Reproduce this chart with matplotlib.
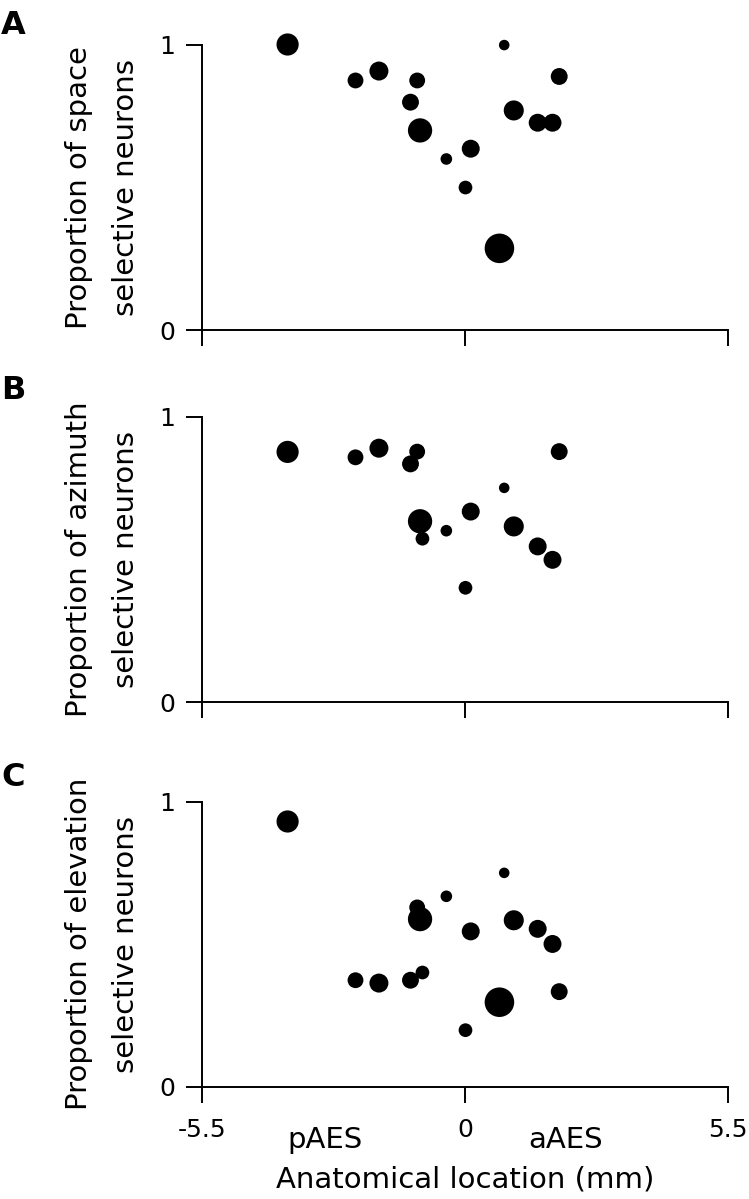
import numpy as np
import matplotlib.pyplot as plt

plt.rcParams["font.family"] = "DejaVu Sans"

W, H = 749, 1199

# recording sites: anatomical location (mm) and marker diameter (px, ~ neuron count)
location = [-3.71, -2.29, -1.80, -1.14, -1.00, -0.94, -0.89, -0.39,
            0.01, 0.12, 0.72, 0.82, 1.02, 1.52, 1.83, 1.97]
site_size = [21, 15, 18, 16, 15, 23, 13, 11, 13, 17, 28, 10, 19, 17, 17, 16]

space = [1.00, 0.874, 0.907, 0.798, 0.874, 0.699, 0.70, 0.599,
         0.499, 0.635, 0.286, 0.998, 0.769, 0.726, 0.726, 0.888]
azimuth = [0.876, 0.857, 0.889, 0.834, 0.877, 0.633, 0.572, 0.600,
           0.400, 0.667, np.nan, 0.750, 0.615, 0.545, 0.498, 0.877]
elevation = [0.930, 0.374, 0.364, 0.374, 0.629, 0.588, 0.401, 0.668,
             0.199, 0.545, 0.297, 0.750, 0.584, 0.554, 0.501, 0.334]

panels = [
    ("A", space, "Proportion of space", 330),
    ("B", azimuth, "Proportion of azimuth", 702),
    ("C", elevation, "Proportion of elevation", 1087),
]
letter_top = {"A": 10, "B": 375, "C": 762}

TICK_FS = 18
LABEL_FS = 21

fig = plt.figure(figsize=(W / 100, H / 100), dpi=100, facecolor="white")

sizes = (np.array(site_size) * 0.76) ** 2
axes = []
for letter, vals, line1, ybot in panels:
    ax = fig.add_axes([202 / W, (H - ybot) / H, 526 / W, 285.5 / H])
    ax.scatter(location, vals, s=sizes, color="black", edgecolors="none",
               clip_on=False, zorder=3)
    ax.set_xlim(-5.5, 5.5)
    ax.set_ylim(0, 1)
    for sp in ["top", "right"]:
        ax.spines[sp].set_visible(False)
    for sp in ["left", "bottom"]:
        ax.spines[sp].set_linewidth(1.4)
    ax.set_yticks([0, 1])
    ax.set_yticklabels(["0", "1"], fontsize=TICK_FS)
    ax.set_xticks([-5.5, 0, 5.5])
    if letter == "C":
        ax.set_xticklabels(["-5.5", "0", "5.5"], fontsize=TICK_FS)
    else:
        ax.set_xticklabels([])
    ax.tick_params(axis="y", direction="out", length=11.5, width=1.4, pad=8)
    ax.tick_params(axis="x", direction="out", length=11.5, width=1.4, pad=11)

    # two-line rotated y label
    ax.text(-0.2186, 0.5, line1, transform=ax.transAxes, rotation=90,
            rotation_mode="anchor", ha="center", va="baseline",
            fontsize=LABEL_FS)
    ax.text(-0.129, 0.5, "selective neurons", transform=ax.transAxes,
            rotation=90, rotation_mode="anchor", ha="center", va="baseline",
            fontsize=LABEL_FS)

    fig.text(1 / W, 1 - letter_top[letter] / H, letter, fontsize=23,
             fontweight="bold", ha="left", va="top")
    axes.append(ax)

axC = axes[-1]
trans = axC.get_xaxis_transform()
axC.text(-2.93, -0.214, "pAES", transform=trans, ha="center",
         va="baseline", fontsize=LABEL_FS)
axC.text(2.11, -0.214, "aAES", transform=trans, ha="center",
         va="baseline", fontsize=LABEL_FS)
axC.text(0.0, -0.352, "Anatomical location (mm)", transform=trans,
         ha="center", va="baseline", fontsize=LABEL_FS)

fig.savefig("out.png", dpi=100, facecolor="white")
